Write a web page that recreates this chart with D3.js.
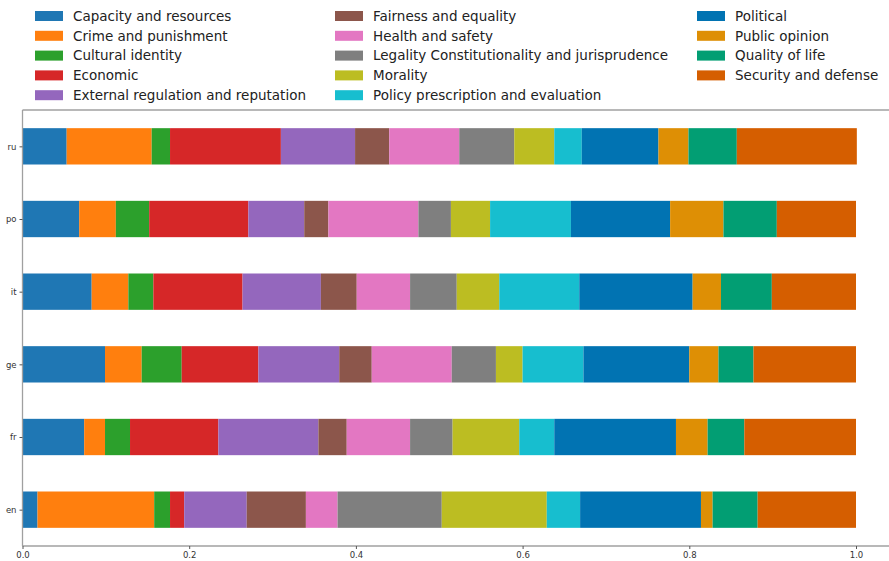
<!DOCTYPE html>
<html>
<head>
<meta charset="utf-8">
<script src="https://cdn.jsdelivr.net/npm/d3@7"></script>
<style>
  body { margin: 0; background: #fff; }
  svg { font-family: "DejaVu Sans", sans-serif; }
</style>
</head>
<body>
<div id="chart"></div>
<script>
(function() {

  const languages = ['en', 'fr', 'ge', 'it', 'po', 'ru'];

  const frames = [
    'Capacity and resources', 'Crime and punishment', 'Cultural identity', 'Economic',
    'External regulation and reputation', 'Fairness and equality', 'Health and safety',
    'Legality Constitutionality and jurisprudence', 'Morality',
    'Policy prescription and evaluation', 'Political', 'Public opinion',
    'Quality of life', 'Security and defense'
  ];

  const colors = [
    '#1f77b4', '#ff7f0e', '#2ca02c', '#d62728', '#9467bd', '#8c564b', '#e377c2',
    '#7f7f7f', '#bcbd22', '#17becf', '#0173b2', '#de8f05', '#029e73', '#d55e00'
  ];

  // share of each frame per language, same order as frames
  const en = [0.018, 0.140, 0.019, 0.017, 0.075, 0.071, 0.038, 0.125, 0.126, 0.040, 0.145, 0.014, 0.054, 0.118];
  const fr = [0.074, 0.025, 0.030, 0.106, 0.120, 0.034, 0.076, 0.051, 0.080, 0.042, 0.146, 0.038, 0.044, 0.134];
  const ge = [0.099, 0.044, 0.048, 0.092, 0.097, 0.039, 0.096, 0.053, 0.032, 0.073, 0.127, 0.035, 0.042, 0.123];
  const it = [0.083, 0.044, 0.030, 0.107, 0.094, 0.043, 0.064, 0.056, 0.051, 0.096, 0.136, 0.034, 0.061, 0.101];
  const po = [0.068, 0.044, 0.040, 0.119, 0.067, 0.029, 0.108, 0.039, 0.047, 0.097, 0.119, 0.064, 0.064, 0.095];
  const ru = [0.053, 0.102, 0.022, 0.133, 0.089, 0.041, 0.084, 0.066, 0.048, 0.033, 0.092, 0.036, 0.058, 0.144];

  const xTicks = [0, 0.2, 0.4, 0.6, 0.8, 1.0];

  const values = { en, fr, ge, it, po, ru };

  const width = 889, height = 561;
  const plot = { left: 22.5, right: 889, top: 110, bottom: 546 };

  const svg = d3.select('#chart').append('svg')
    .attr('width', width)
    .attr('height', height);

  const xScale = d3.scaleLinear()
    .domain([0, 1])
    .range([plot.left, 856]);

  // bars sit at integer positions, matplotlib-style margins around them
  const yScale = d3.scaleLinear()
    .domain([-0.5, 5.5])
    .range([plot.bottom, plot.top]);

  const rows = languages.map(lang => {
    const obj = { lang };
    frames.forEach((f, i) => { obj[f] = values[lang][i]; });
    return obj;
  });

  const stacked = d3.stack().keys(frames)(rows);
  const barH = yScale(0) - yScale(0.5);

  svg.append('g')
    .selectAll('g')
    .data(stacked)
    .enter().append('g')
      .attr('fill', (d, i) => colors[i])
    .selectAll('rect')
    .data(d => d)
    .enter().append('rect')
      .attr('x', d => xScale(d[0]))
      .attr('width', d => xScale(d[1]) - xScale(d[0]))
      .attr('y', (d, i) => yScale(i) - barH / 2)
      .attr('height', barH);

  // spines
  const spine = svg.append('g')
    .attr('stroke', '#a0a0a0')
    .attr('stroke-width', 1.3)
    .attr('fill', 'none');
  spine.append('line')
    .attr('x1', plot.left).attr('x2', plot.right)
    .attr('y1', plot.bottom).attr('y2', plot.bottom);
  spine.append('line')
    .attr('x1', plot.left).attr('x2', plot.right)
    .attr('y1', plot.top).attr('y2', plot.top);
  spine.append('line')
    .attr('x1', plot.left).attr('x2', plot.left)
    .attr('y1', plot.top).attr('y2', plot.bottom);

  const xAxis = svg.append('g')
    .attr('transform', `translate(0, ${plot.bottom})`)
    .call(d3.axisBottom(xScale).tickValues(xTicks).tickFormat(d3.format('.1f')).tickSize(3).tickPadding(3));
  xAxis.select('.domain').remove();
  xAxis.selectAll('line').attr('stroke', '#555');
  xAxis.selectAll('text').attr('font-size', 8.5).attr('fill', '#333').attr('font-family', '"DejaVu Sans", sans-serif');

  const yAxis = svg.append('g')
    .attr('transform', `translate(${plot.left}, 0)`)
    .call(d3.axisLeft(yScale).tickValues(d3.range(languages.length)).tickFormat(i => languages[i]).tickSize(3).tickPadding(3));
  yAxis.select('.domain').remove();
  yAxis.selectAll('line').attr('stroke', '#555');
  yAxis.selectAll('text').attr('font-size', 8.5).attr('fill', '#333').attr('font-family', '"DejaVu Sans", sans-serif');

  // legend in three columns
  const colX = [35, 335, 697];
  const colSplit = [5, 5, 4];
  let idx = 0;
  colSplit.forEach((n, c) => {
    for (let r = 0; r < n; r++, idx++) {
      const g = svg.append('g')
        .attr('transform', `translate(${colX[c]}, ${16 + r * 19.8})`);
      g.append('rect')
        .attr('x', 0).attr('y', -5)
        .attr('width', 28).attr('height', 10)
        .attr('fill', colors[idx]);
      g.append('text')
        .attr('x', 38).attr('y', 0)
        .attr('dy', '0.35em')
        .attr('font-size', 13.5)
        .attr('fill', '#222')
        .text(frames[idx]);
    }
  });
}());
</script>
</body>
</html>
